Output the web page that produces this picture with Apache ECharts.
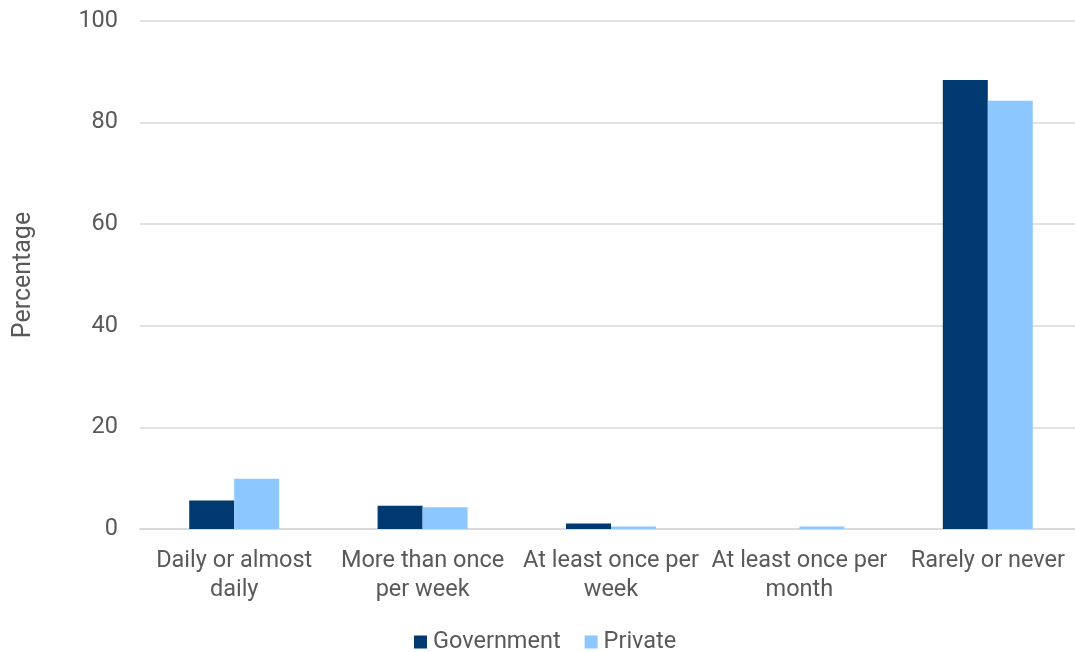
<!DOCTYPE html>
<html><head><meta charset="utf-8">
<script src="https://cdn.jsdelivr.net/npm/echarts@6/dist/echarts.min.js"></script>
<style>html,body{margin:0;padding:0;background:#fff}#c{width:1075px;height:652px}</style>
</head><body><div id="c"></div>
<script>
const categories = ["Daily or almost\ndaily", "More than once\nper week", "At least once per\nweek", "At least once per\nmonth", "Rarely or never"];
const government = [5.6, 4.6, 1.1, 0, 88.4];
const privateVals = [9.9, 4.3, 0.5, 0.5, 84.3];
const yTicks = [0, 20, 40, 60, 80, 100];

const chart = echarts.init(document.getElementById('c'));
const font = 'Roboto';
chart.setOption({
  animation: false,
  textStyle: {fontFamily: font},
  grid: {left: 140, width: 942, top: 21, height: 508, outerBoundsMode: 'none', containLabel: false},
  legend: {
    top: 630, left: 414, padding: 0,
    itemWidth: 13, itemHeight: 13, itemGap: 24,
    icon: 'rect',
    textStyle: {fontSize: 23.5, color: '#595959', fontFamily: font, padding: [0, 0, 0, 1]},
    data: ['Government', 'Private']
  },
  xAxis: {
    type: 'category', data: categories,
    axisLine: {lineStyle: {color: '#d9d9d9', width: 2}},
    axisTick: {show: false},
    axisLabel: {fontSize: 23.5, color: '#595959', lineHeight: 29, margin: 18, interval: 0}
  },
  yAxis: {
    type: 'value', min: 0, max: 100, interval: 20,
    name: 'Percentage', nameLocation: 'middle', nameGap: 104, nameRotate: 90,
    nameTextStyle: {fontSize: 25, color: '#595959'},
    axisLine: {show: false}, axisTick: {show: false},
    axisLabel: {fontSize: 23.5, color: '#595959', margin: 22,
      formatter: v => yTicks.includes(v) ? String(v) : ''},
    splitLine: {lineStyle: {color: '#d9d9d9', width: 1.5}}
  },
  series: [
    {name: 'Government', type: 'bar', data: government, barWidth: 45, barGap: '0%',
     itemStyle: {color: '#003a70'}},
    {name: 'Private', type: 'bar', data: privateVals, barWidth: 45,
     itemStyle: {color: '#8cc8ff'}}
  ]
});
</script></body></html>
